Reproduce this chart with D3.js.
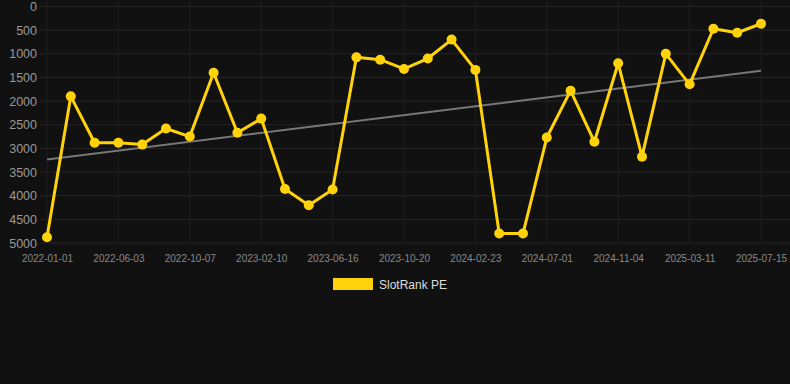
<!DOCTYPE html>
<html>
<head>
<meta charset="utf-8">
<script src="https://cdn.jsdelivr.net/npm/d3@7"></script>
<style>
  body{margin:0;background:#111111;}
  .canvas svg{display:block;}
</style>
</head>
<body>
<div class="canvas"></div>
<script>
// data
const dates=['2022-01-01','2022-03-11','2022-04-22','2022-06-03','2022-07-15','2022-08-26','2022-10-07','2022-11-18','2022-12-30',
  '2023-02-10','2023-03-24','2023-05-05','2023-06-16','2023-07-28','2023-09-08','2023-10-20','2023-12-01','2024-01-12',
  '2024-02-23','2024-04-05','2024-05-18','2024-07-01','2024-08-12','2024-09-23','2024-11-04','2024-12-16','2025-01-27',
  '2025-03-11','2025-04-22','2025-06-03','2025-07-15'];
const rank=[4880,1900,2880,2880,2920,2580,2750,1400,2670,2370,3860,4200,3870,1075,1125,1320,1100,700,1340,4800,4800,
  2770,1780,2860,1200,3175,1000,1645,470,555,365];
const yTicks=[0,500,1000,1500,2000,2500,3000,3500,4000,4500,5000];
const seriesName='SlotRank PE';

const W=790,H=384;
const svg=d3.select('.canvas').append('svg')
  .attr('width',W)
  .attr('height',H)
  .style('background','#111111');

const plotLeft=40,plotRight=790,plotTop=6.5,plotBottom=243;

const x=d3.scalePoint()
  .domain(dates)
  .range([47,761]);

const y=d3.scaleLinear()
  .domain([0,5000])
  .range([plotTop,plotBottom]);

// grid
const grid=svg.append('g');
grid.selectAll('line.h')
  .data(yTicks)
  .enter().append('line')
  .attr('x1',plotLeft).attr('x2',plotRight)
  .attr('y1',d=>y(d)).attr('y2',d=>y(d))
  .attr('stroke','#252525').attr('stroke-width',1);

const xTickVals=dates.filter((d,i)=>i%3===0);
grid.selectAll('line.v')
  .data(xTickVals)
  .enter().append('line')
  .attr('x1',d=>x(d)).attr('x2',d=>x(d))
  .attr('y1',plotTop-6).attr('y2',plotBottom)
  .attr('stroke','#1f1f1f').attr('stroke-width',1);

// axes
const yAxis=d3.axisLeft(y).tickValues(yTicks).tickSize(0).tickPadding(0)
  .tickFormat(d3.format('d'));
const yAxisGroup=svg.append('g')
  .attr('transform',`translate(37,0)`)
  .call(yAxis);
yAxisGroup.select('.domain').remove();
yAxisGroup.selectAll('text')
  .attr('fill','#999')
  .attr('font-family','Arial, "Liberation Sans", sans-serif')
  .attr('font-size',12.5);

const xAxis=d3.axisBottom(x).tickValues(xTickVals).tickSize(0).tickPadding(0);
const xAxisGroup=svg.append('g')
  .attr('transform',`translate(0,${plotBottom+12})`)
  .call(xAxis);
xAxisGroup.select('.domain').remove();
xAxisGroup.selectAll('text')
  .attr('fill','#888')
  .attr('font-family','Arial, "Liberation Sans", sans-serif')
  .attr('font-size',10);

// trend line (least squares over the series)
const n=rank.length;
const idx=d3.range(n);
const mx=d3.mean(idx),my=d3.mean(rank);
const slope=d3.sum(idx,i=>(i-mx)*(rank[i]-my))/d3.sum(idx,i=>(i-mx)*(i-mx));
const icpt=my-slope*mx;
svg.append('line')
  .attr('x1',x(dates[0])).attr('y1',y(icpt))
  .attr('x2',x(dates[n-1])).attr('y2',y(icpt+slope*(n-1)))
  .attr('stroke','#777').attr('stroke-width',2);

// series line
const line=d3.line()
  .x((d,i)=>x(dates[i]))
  .y(d=>y(d));
svg.append('path')
  .datum(rank)
  .attr('d',line)
  .attr('fill','none')
  .attr('stroke','#FFD20A')
  .attr('stroke-width',3)
  .attr('stroke-linejoin','round');

svg.selectAll('circle')
  .data(rank)
  .enter().append('circle')
  .attr('cx',(d,i)=>x(dates[i]))
  .attr('cy',d=>y(d))
  .attr('r',5)
  .attr('fill','#FFD20A');

// legend
const legend=svg.append('g').attr('transform','translate(333,278)');
legend.append('rect')
  .attr('width',40).attr('height',12)
  .attr('fill','#FFD20A');
legend.append('text')
  .attr('x',46).attr('y',10.5)
  .attr('fill','#ddd')
  .attr('font-family','Arial, "Liberation Sans", sans-serif')
  .attr('font-size',12)
  .text(seriesName);
</script>
</body>
</html>
